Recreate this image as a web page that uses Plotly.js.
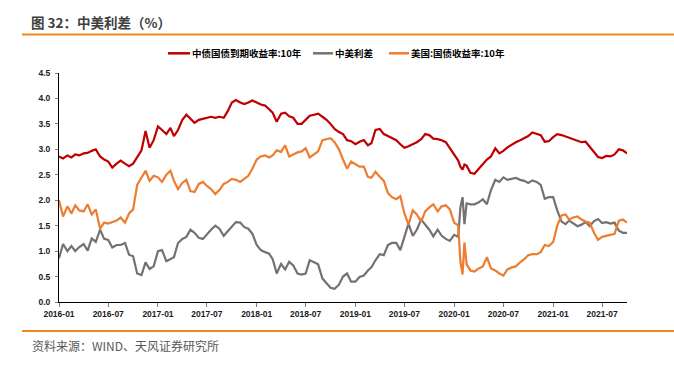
<!DOCTYPE html>
<html><head><meta charset="utf-8">
<script src="https://cdn.plot.ly/plotly-3.0.1.min.js"></script>
<style>html,body{margin:0;padding:0;background:#fff;} #chart{width:674px;height:382px;}</style>
</head><body><div id="chart"></div>
<script>
const dates = [
"2016-01-01","2016-01-16","2016-02-01","2016-02-16","2016-03-01","2016-03-16","2016-04-01","2016-04-16","2016-05-01","2016-05-16","2016-06-01","2016-06-16","2016-07-01","2016-07-16","2016-08-01","2016-08-16","2016-09-01","2016-09-16","2016-10-01","2016-10-16","2016-11-01","2016-11-16","2016-12-01","2016-12-16",
"2017-01-01","2017-01-16","2017-02-01","2017-02-16","2017-03-01","2017-03-16","2017-04-01","2017-04-16","2017-05-01","2017-05-16","2017-06-01","2017-06-16","2017-07-01","2017-07-16","2017-08-01","2017-08-16","2017-09-01","2017-09-16","2017-10-01","2017-10-16","2017-11-01","2017-11-16","2017-12-01","2017-12-16",
"2018-01-01","2018-01-16","2018-02-01","2018-02-16","2018-03-01","2018-03-16","2018-04-01","2018-04-16","2018-05-01","2018-05-16","2018-06-01","2018-06-16","2018-07-01","2018-07-16","2018-08-01","2018-08-16","2018-09-01","2018-09-16","2018-10-01","2018-10-16","2018-11-01","2018-11-16","2018-12-01","2018-12-16",
"2019-01-01","2019-01-16","2019-02-01","2019-02-16","2019-03-01","2019-03-16","2019-04-01","2019-04-16","2019-05-01","2019-05-16","2019-06-01","2019-06-16","2019-07-01","2019-07-16","2019-08-01","2019-08-16","2019-09-01","2019-09-16","2019-10-01","2019-10-16","2019-11-01","2019-11-16","2019-12-01","2019-12-16",
"2020-01-01","2020-01-16","2020-01-24","2020-02-01","2020-02-08","2020-02-16","2020-03-01","2020-03-16","2020-04-01","2020-04-16","2020-05-01","2020-05-16","2020-06-01","2020-06-16","2020-07-01","2020-07-16","2020-08-01","2020-08-16","2020-09-01","2020-09-16","2020-10-01","2020-10-16","2020-11-01","2020-11-16","2020-12-01","2020-12-16",
"2021-01-01","2021-01-16","2021-02-01","2021-02-16","2021-03-01","2021-03-16","2021-04-01","2021-04-16","2021-05-01","2021-05-16","2021-06-01","2021-06-16","2021-07-01","2021-07-16","2021-08-01","2021-08-16","2021-09-01","2021-09-16","2021-10-01"
];

const cnYield = [
2.86,2.82,2.88,2.84,2.90,2.88,2.92,2.93,2.97,3.00,2.86,2.80,2.76,2.64,2.72,2.78,2.72,2.67,2.72,2.86,2.98,3.36,3.03,3.18,
3.45,3.38,3.30,3.42,3.26,3.38,3.58,3.68,3.60,3.52,3.58,3.60,3.62,3.64,3.62,3.64,3.62,3.75,3.92,3.97,3.92,3.89,3.92,3.96,
3.92,3.88,3.86,3.79,3.72,3.54,3.70,3.72,3.65,3.62,3.50,3.50,3.58,3.66,3.68,3.70,3.64,3.58,3.50,3.40,3.34,3.30,3.18,3.16,
3.10,3.15,3.18,3.08,3.12,3.38,3.40,3.30,3.26,3.22,3.18,3.10,3.03,3.06,3.10,3.14,3.20,3.30,3.28,3.21,3.20,3.18,3.14,3.02,
2.88,2.78,2.66,2.60,2.70,2.68,2.54,2.52,2.62,2.72,2.80,2.86,3.02,2.92,2.97,3.04,3.10,3.14,3.18,3.22,3.26,3.33,3.30,3.28,3.15,3.16,
3.24,3.30,3.28,3.25,3.22,3.20,3.17,3.14,3.15,3.05,2.95,2.85,2.83,2.87,2.86,2.90,3.00,2.98,2.92
];

const usYield = [
2.00,1.68,1.88,1.74,1.90,1.80,1.78,1.92,1.72,1.82,1.44,1.56,1.54,1.57,1.60,1.66,1.56,1.74,1.82,2.30,2.45,2.58,2.38,2.48,
2.45,2.36,2.50,2.58,2.38,2.22,2.34,2.40,2.18,2.16,2.32,2.36,2.28,2.22,2.12,2.20,2.32,2.36,2.42,2.40,2.36,2.42,2.48,2.62,
2.80,2.86,2.88,2.84,2.88,2.98,2.95,3.08,2.86,2.90,2.94,2.96,3.02,2.84,2.90,2.96,3.18,3.20,3.22,3.14,3.00,2.80,2.62,2.76,
2.70,2.66,2.66,2.46,2.44,2.56,2.46,2.38,2.14,2.06,2.02,2.08,1.74,1.52,1.80,1.72,1.58,1.78,1.86,1.92,1.78,1.88,1.90,1.82,
1.56,1.50,0.80,0.54,1.17,0.74,0.62,0.60,0.66,0.70,0.88,0.66,0.62,0.56,0.52,0.64,0.68,0.70,0.78,0.84,0.92,0.94,0.94,0.98,1.12,1.10,
1.18,1.50,1.70,1.72,1.62,1.66,1.68,1.62,1.58,1.56,1.36,1.22,1.28,1.30,1.32,1.34,1.60,1.62,1.56
];

const spread = [
0.86,1.14,1.00,1.10,1.00,1.08,1.14,1.01,1.25,1.18,1.42,1.24,1.22,1.07,1.12,1.12,1.16,0.93,0.90,0.56,0.53,0.78,0.65,0.70,
1.00,1.02,0.80,0.84,0.88,1.16,1.24,1.28,1.42,1.36,1.26,1.24,1.34,1.42,1.50,1.44,1.30,1.39,1.50,1.57,1.56,1.47,1.44,1.34,
1.12,1.02,0.98,0.95,0.84,0.56,0.75,0.64,0.79,0.72,0.56,0.54,0.56,0.82,0.78,0.74,0.46,0.38,0.28,0.26,0.34,0.50,0.56,0.40,
0.40,0.49,0.52,0.62,0.68,0.82,0.94,0.92,1.12,1.16,1.16,1.02,1.29,1.54,1.30,1.42,1.62,1.52,1.42,1.29,1.42,1.30,1.24,1.20,
1.32,1.28,1.86,2.06,1.53,1.94,1.92,1.92,1.96,2.02,1.92,2.20,2.40,2.36,2.45,2.40,2.42,2.44,2.40,2.38,2.34,2.39,2.36,2.30,2.03,2.06,
2.06,1.80,1.58,1.53,1.60,1.54,1.49,1.52,1.57,1.49,1.59,1.63,1.55,1.57,1.54,1.56,1.40,1.36,1.36
];

const seriesNames = ["中债国债到期收益率:10年", "中美利差", "美国:国债收益率:10年"];
const seriesColors = ["#C00000", "#767171", "#ED7D31"];
const titleText = "图 32：中美利差（%）";
const sourceText = "资料来源：WIND、天风证券研究所";

const values = [cnYield, spread, usYield];
const traces = values.map((v, i) => ({
  type: "scatter", mode: "lines", x: dates, y: v, name: seriesNames[i],
  line: {color: seriesColors[i], width: 2.2}, showlegend: false, hoverinfo: "skip"
}));

const W = 674, H = 382, L = 59, R = 47, T = 73, B = 80;
const pw = W - L - R, ph = H - T - B;
const px = x => (x - L) / pw;
const py = y => (H - B - y) / ph;

const cjk = "Noto Sans CJK SC, Noto Sans, sans-serif";
const rule = "#F0871E";

const shapes = [
  {type: "line", xref: "paper", yref: "paper", x0: px(22), x1: px(674), y0: py(34.5), y1: py(34.5), line: {color: rule, width: 2}},
  {type: "line", xref: "paper", yref: "paper", x0: px(22), x1: px(674), y0: py(331), y1: py(331), line: {color: rule, width: 2}}
];
const annotations = [
  {xref: "paper", yref: "paper", x: px(29), y: py(22), xanchor: "left", yanchor: "middle", showarrow: false,
   text: titleText, font: {family: cjk, size: 13.5, color: "#404040", weight: "bold"}},
  {xref: "paper", yref: "paper", x: px(29.5), y: py(345), xanchor: "left", yanchor: "middle", showarrow: false,
   text: sourceText, font: {family: cjk, size: 12, color: "#595959"}}
];
const legX = [[168, 190], [313, 333], [389, 409]];
const legY = py(53.3);
seriesNames.forEach((n, i) => {
  shapes.push({type: "line", xref: "paper", yref: "paper", x0: px(legX[i][0]), x1: px(legX[i][1]), y0: legY, y1: legY,
    line: {color: seriesColors[i], width: 2.5}});
  annotations.push({xref: "paper", yref: "paper", x: px(legX[i][1]), y: legY, xanchor: "left", yanchor: "middle",
    showarrow: false, text: n, font: {family: cjk, size: 9.5, color: "#000", weight: "bold"}});
});

const tickFont = {family: "Liberation Sans, Arial, sans-serif", size: 8.5, color: "#1a1a1a", weight: "bold"};
const layout = {
  width: W, height: H, margin: {l: L, r: R, t: T, b: B, pad: 0},
  paper_bgcolor: "#fff", plot_bgcolor: "#fff",
  xaxis: {type: "date", range: ["2016-01-01", "2021-10-01"], tick0: "2016-01-01", dtick: "M6", tickformat: "%Y-%m",
    showgrid: false, zeroline: false, showline: true, linecolor: "#000", linewidth: 1,
    ticks: "outside", ticklen: 4, tickcolor: "#7f7f7f", tickwidth: 1, tickfont: tickFont},
  yaxis: {range: [0, 4.5], dtick: 0.5, tick0: 0, tickformat: ".1f", showgrid: false, zeroline: false,
    showline: true, linecolor: "#000", linewidth: 1, ticks: "outside", ticklen: 3, tickcolor: "#7f7f7f",
    ticklabelstandoff: 3, tickfont: tickFont},
  shapes: shapes, annotations: annotations, showlegend: false
};
Plotly.newPlot("chart", traces, layout, {staticPlot: true, displayModeBar: false});
</script></body></html>
